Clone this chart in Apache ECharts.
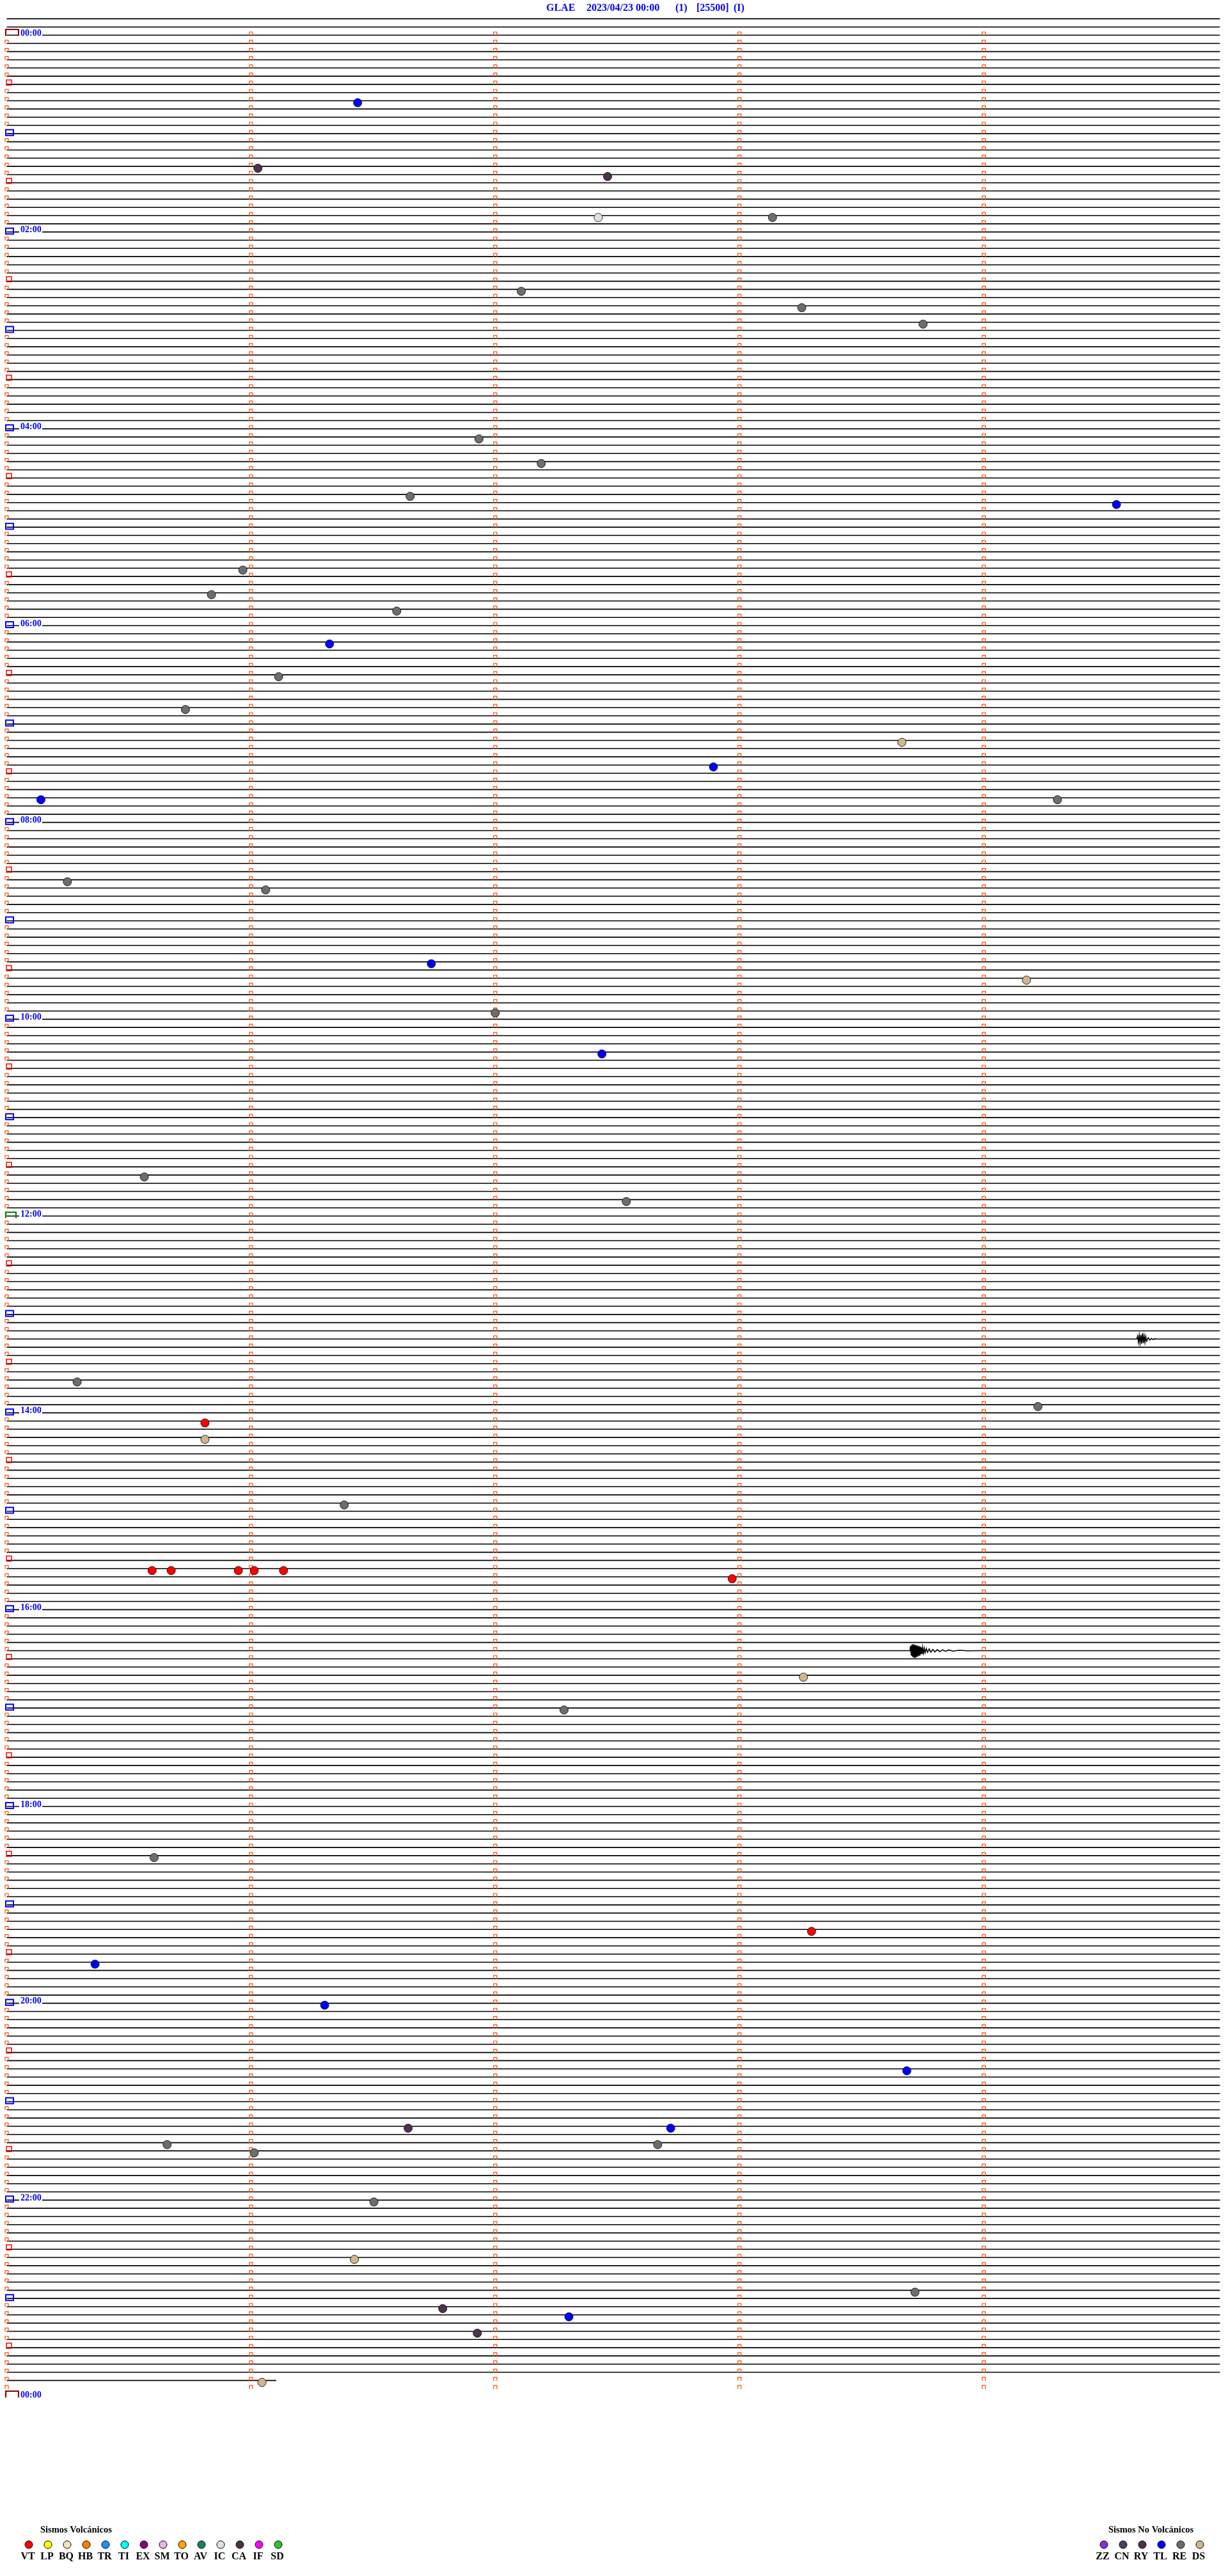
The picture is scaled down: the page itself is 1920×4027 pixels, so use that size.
<!DOCTYPE html>
<html><head><meta charset="utf-8">
<script src="https://cdn.jsdelivr.net/npm/echarts/dist/echarts.min.js"></script>
<style>html,body{margin:0;padding:0;background:#fff}#c{width:1920px;height:4027px}</style>
</head><body><div id="c"></div>
<script>
// ---------- data ----------
const titleParts = ['GLAE', '2023/04/23 00:00', '(1)', '[25500]', '(I)'];
const hourLabels = ['00:00','02:00','04:00','06:00','08:00','10:00','12:00','14:00','16:00','18:00','20:00','22:00','00:00'];
const firstTrace = -2, lastTrace = 286;         // trace rows (5 min each)
const traceStop = 298, lastTraceStop = 66.2;     // seconds within a row
const markerSeconds = [0, 60, 120, 180, 240];

// events: [second within row, row]
const tlEvents = [[86.2,8],[272.6,57],[79.3,74],[173.6,89],[8.4,93],[104.3,113],[146.2,124],[21.7,235],[78.1,240],[221.1,248],[163.1,255],[138.1,278]];
const reEvents = [[188.1,22],[126.4,31],[195.3,33],[225.1,35],[116,49],[131.3,52],[99.1,56],[58,65],[50.3,68],[95.8,70],[66.8,78],[43.9,82],[258.1,93],[14.9,103],[63.6,104],[120,119],[33.8,139],[152.2,142],[17.3,164],[253.3,167],[82.9,179],[136.9,204],[36.2,222],[39.4,257],[60.8,258],[159.9,257],[90.2,264],[223.1,275]];
const dsEvents = [[219.9,86],[250.5,115],[48.7,171],[195.7,200],[85.4,271],[62.7,286]];
const ryEvents = [[61.7,16],[147.6,17],[98.6,255],[107.1,277],[115.6,280]];
const icEvents = [[145.3,22]];
const vtEvents = [[48.7,169],[35.7,187],[40.4,187],[56.9,187],[60.8,187],[68.0,187],[178.2,188],[197.7,231]];

// recorded bursts (seconds, offset in row units)
const burstA_row = 197;
const burstA_t = [221.9,222.0,222.2,222.3,222.5,222.6,222.8,222.9,223.1,223.2,223.4,223.5,223.7,223.8,224.0,224.1,224.3,224.4,224.6,224.7,224.9,225.0,225.2,225.4,225.6,225.9,226.2,226.6,227.0,227.5,228.0,228.6,229.2,229.9,230.6,231.4,232.5,234.0,236.0,238.4];
const burstA_v = [0,-0.55,0.6,-0.7,0.75,-0.8,0.85,-0.75,0.9,-0.7,0.8,-0.65,0.75,-0.6,0.65,-0.55,0.6,-0.5,0.45,-0.4,0.4,-0.35,0.3,-0.3,0.25,-0.25,0.2,-0.2,0.18,-0.15,0.15,-0.12,0.12,-0.1,0.08,-0.08,0.06,-0.05,0.03,0];
const burstB_row = 159;
const burstB_t = [277.6,277.8,278.0,278.2,278.4,278.6,278.8,279.0,279.2,279.4,279.6,279.8,280.0,280.4,280.8,281.2,281.6,282.0,282.4];
const burstB_v = [0,-0.35,0.4,-0.45,0.5,-0.5,0.55,-0.7,0.5,-0.4,0.4,-0.3,0.25,-0.15,0.12,-0.08,0.06,-0.03,0];

const volcanicCodes  = ['VT','LP','BQ','HB','TR','TI','EX','SM','TO','AV','IC','CA','IF','SD'];
const volcanicColors = ['#ff0000','#ffff00','#f0e4b0','#ff8000','#1e90ff','#00ffff','#8b008b','#e8b0e8','#ffa500','#1f7f5f','#e0e0e0','#503048','#ff00ff','#32c032'];
const nonVolcCodes   = ['ZZ','CN','RY','TL','RE','DS'];
const nonVolcColors  = ['#8a2be2','#4f4060','#503050','#0000ff','#6b6f6b','#d2b48c'];

// ---------- build ----------
const traceData = [];
for (let i = firstTrace; i <= lastTrace; i++) {
  let coords = [[0, i]];
  const stop = (i === lastTrace) ? lastTraceStop : traceStop;
  if (i === burstA_row) burstA_t.forEach((t, k) => coords.push([t, i + burstA_v[k]]));
  if (i === burstB_row) burstB_t.forEach((t, k) => coords.push([t, i + burstB_v[k]]));
  coords.push([stop, i]);
  traceData.push({ coords });
}
const markerData = [];
for (let i = 0; i <= 288; i++) {
  const k0 = (i % 144 === 0) ? (i === 144 ? 4 : 3) : (i % 12 === 0 ? 2 : (i % 6 === 0 ? 1 : 0));
  markerData.push([markerSeconds[0], i, k0]);
  if (i <= 287) markerSeconds.slice(1).forEach(s => markerData.push([s, i, 0]));
}
const labelData = hourLabels.map((l, k) => [0, k * 24, k]);

function evSeries(data, color) {
  return { type: 'scatter', data, symbol: 'circle', symbolSize: 13, symbolOffset: [0, 3], z: 5,
    itemStyle: { color, borderColor: '#000', borderWidth: 0.8, opacity: 1 }, silent: true };
}

const graphics = [];
const titleX = [854, 917, 1056, 1089, 1147];
titleParts.forEach((s, k) => graphics.push({ type: 'text', left: titleX[k], top: 5,
  style: { text: s, fill: '#0000ff', font: 'bold 16px "Liberation Serif"' } }));
graphics.push({ type: 'text', left: 63, top: 3948, style: { text: 'Sismos Volcánicos', fill: '#000', font: 'bold 14.5px "Liberation Serif"' } });
graphics.push({ type: 'text', left: 1733, top: 3948, style: { text: 'Sismos No Volcánicos', fill: '#000', font: 'bold 14.5px "Liberation Serif"' } });
volcanicCodes.forEach((c, k) => {
  const cx = 45 + 30 * k;
  graphics.push({ type: 'circle', shape: { cx, cy: 3978, r: 6 }, style: { fill: volcanicColors[k], stroke: '#000', lineWidth: 1 } });
  graphics.push({ type: 'text', x: cx - 1.5, y: 3997, style: { text: c, fill: '#000', font: 'bold 16px "Liberation Serif"', align: 'center', verticalAlign: 'middle' } });
});
nonVolcCodes.forEach((c, k) => {
  const cx = 1726 + 30 * k;
  graphics.push({ type: 'circle', shape: { cx, cy: 3978, r: 6 }, style: { fill: nonVolcColors[k], stroke: '#000', lineWidth: 1 } });
  graphics.push({ type: 'text', x: cx - 2, y: 3997, style: { text: c, fill: '#000', font: 'bold 16px "Liberation Serif"', align: 'center', verticalAlign: 'middle' } });
});

const rowPx = 3692 / 288;
const option = {
  animation: false,
  backgroundColor: '#fff',
  grid: { left: 10.5, width: 1912, top: 55 - 4 * rowPx, height: 296 * rowPx, containLabel: false },
  xAxis: { type: 'value', min: 0, max: 300, show: false },
  yAxis: { type: 'value', min: -4, max: 292, inverse: true, show: false },
  graphic: graphics,
  series: [
    { type: 'lines', coordinateSystem: 'cartesian2d', polyline: true, data: traceData, silent: true,
      lineStyle: { color: '#000', width: 1.6, opacity: 1 }, z: 2 },
    { type: 'custom', data: markerData, clip: false, silent: true, z: 3,
      dimensions: ['t', 'row', 'kind'], encode: { x: 0, y: 1 },
      renderItem(params, api) {
        const p = api.coord([api.value(0), api.value(1)]);
        const x = p[0], y = p[1], k = api.value(2);
        if (k === 0) return { type: 'polyline', shape: { points: [[x - 2.5, y + 0.5], [x - 2.5, y - 5], [x + 2.5, y - 5], [x + 2.5, y + 0.5]] }, style: { stroke: '#ff4a00', fill: null, lineWidth: 1.2 } };
        if (k === 1) return { type: 'rect', shape: { x: x - 0.5, y: y - 7, width: 8, height: 8 }, style: { stroke: '#ff0000', fill: null, lineWidth: 1.5 } };
        if (k === 2) return { type: 'rect', shape: { x: x - 1.5, y: y - 6, width: 12, height: 9 }, style: { stroke: '#0000ff', fill: null, lineWidth: 2 } };
        const w = (k === 3) ? 20 : 16, col = (k === 3) ? '#8b0000' : '#008000', top = (k === 3) ? 9 : 6, bot = (k === 3) ? 1 : 3;
        return { type: 'polyline', shape: { points: [[x - 1.5, y + bot], [x - 1.5, y - top], [x - 1.5 + w, y - top], [x - 1.5 + w, y + bot]] }, style: { stroke: col, fill: null, lineWidth: 2.2 } };
      } },
    { type: 'custom', data: labelData, clip: false, silent: true, z: 4,
      renderItem(params, api) {
        const p = api.coord([api.value(0), api.value(1)]);
        const txt = hourLabels[api.value(2)];
        return { type: 'group', children: [
          { type: 'rect', shape: { x: p[0] + 19.5, y: p[1] - 10, width: 36, height: 13 }, style: { fill: '#fff' } },
          { type: 'text', x: p[0] + 21.5, y: p[1] - 3, style: { text: txt, fill: '#0000ff', font: 'bold 14px "Liberation Serif"', verticalAlign: 'middle', align: 'left' } }
        ] };
      } },
    evSeries(tlEvents, '#0000ff'),
    evSeries(reEvents, '#6b6f6b'),
    evSeries(dsEvents, '#d2b48c'),
    evSeries(ryEvents, '#503050'),
    evSeries(icEvents, '#e0e0e0'),
    evSeries(vtEvents, '#ff0000')
  ]
};
const chart = echarts.init(document.getElementById('c'), null, { renderer: 'canvas', width: 1920, height: 4027 });
chart.setOption(option);
</script></body></html>
